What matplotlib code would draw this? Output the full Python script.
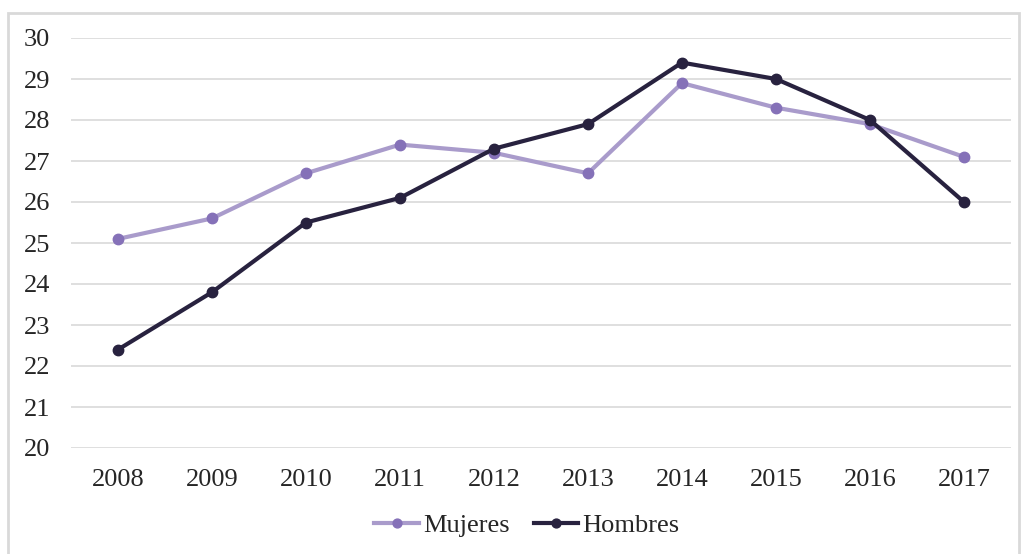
import matplotlib.pyplot as plt
from matplotlib.patches import Rectangle

years = ['2008', '2009', '2010', '2011', '2012', '2013', '2014', '2015', '2016', '2017']
mujeres = [25.1, 25.6, 26.7, 27.4, 27.2, 26.7, 28.9, 28.3, 27.9, 27.1]
hombres = [22.4, 23.8, 25.5, 26.1, 27.3, 27.9, 29.4, 29.0, 28.0, 26.0]

plt.rcParams['font.family'] = ['Liberation Serif', 'DejaVu Serif']

W, H = 1021, 554
fig = plt.figure(figsize=(W / 100, H / 100), dpi=100)
ax = fig.add_axes([71 / W, 1 - 448 / H, 940 / W, 410 / H])

x = list(range(len(years)))
ax.plot(x, mujeres, '-', color='#a99bcb', lw=3, marker='o', ms=7.5,
        mfc='#8571b8', mec='#8571b8', label='Mujeres', zorder=3)
ax.plot(x, hombres, '-', color='#28223f', lw=3, marker='o', ms=7.5,
        mfc='#28223f', mec='#28223f', label='Hombres', zorder=4)

ax.set_xlim(-0.5, len(years) - 0.5)
ax.set_ylim(20, 30)
ax.set_yticks(range(20, 31))
ax.set_xticks(x)
ax.set_xticklabels(years)
ax.grid(axis='y', color='#d9d9d9', lw=1.2)
ax.set_axisbelow(True)
for s in ax.spines.values():
    s.set_visible(False)
ax.tick_params(length=0, labelsize=19, colors='#262626')
ax.tick_params(axis='y', pad=15)
ax.tick_params(axis='x', pad=15)

ax.legend(loc='center', bbox_to_anchor=(527 / W, 1 - 525 / H), bbox_transform=fig.transFigure,
          ncol=2, frameon=False, fontsize=19, handlelength=1.7, handletextpad=0.15,
          columnspacing=0.9, labelcolor='#262626', markerscale=0.85)

fig.patches.append(Rectangle((8 / W, -0.02), 1 - 10 / W, 1 - 13 / H + 0.02,
                             transform=fig.transFigure, fill=False,
                             edgecolor='#d9d9d9', lw=2))

fig.savefig('out.png', dpi=100)
